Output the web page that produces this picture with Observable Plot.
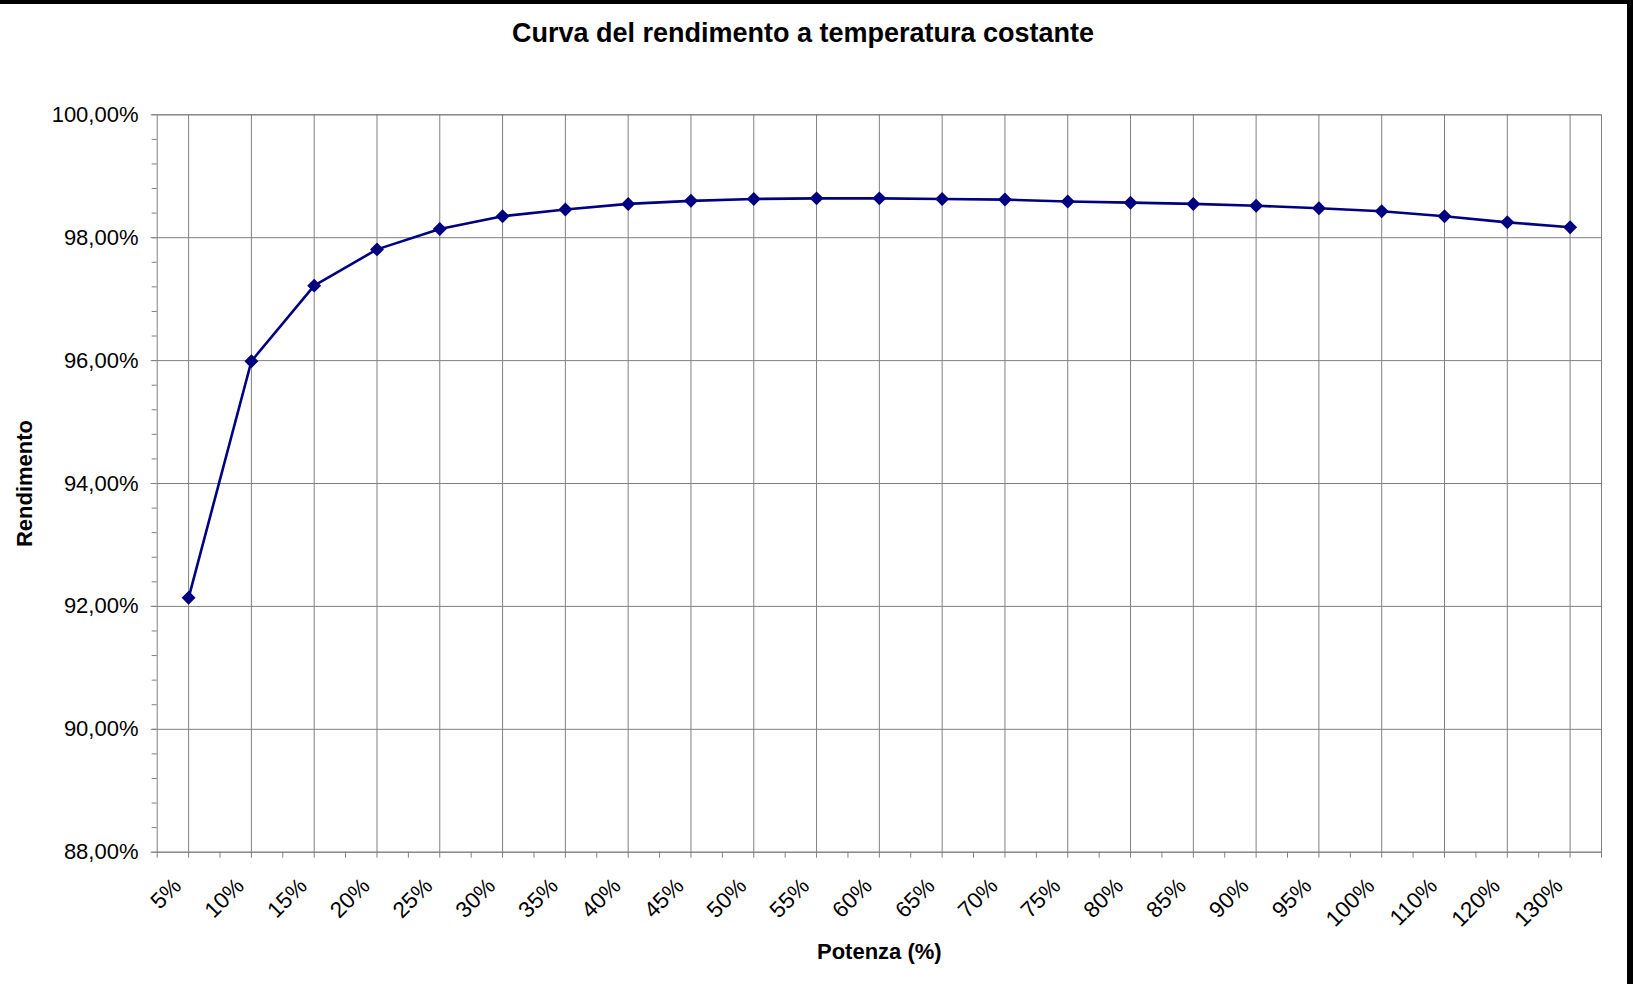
<!DOCTYPE html>
<html><head><meta charset="utf-8">
<script src="https://cdn.jsdelivr.net/npm/d3@7"></script>
<script src="https://cdn.jsdelivr.net/npm/@observablehq/plot@0.6"></script>
<style>
html,body{margin:0;padding:0;background:#fff;}
#wrap{position:relative;width:1633px;height:984px;overflow:hidden;font-family:"Liberation Sans",Arial,sans-serif;}
#title{position:absolute;left:0;width:1606px;top:17px;text-align:center;font-weight:bold;font-size:27px;line-height:32px;color:#000;}
#bt{position:absolute;left:0;top:0;width:1633px;height:4px;background:#000;}
#br{position:absolute;right:0;top:0;width:6px;height:984px;background:#000;}
#chart{position:absolute;left:0;top:0;}
</style></head>
<body><div id="wrap"><div id="chart"></div><div id="title">Curva del rendimento a temperatura costante</div><div id="bt"></div><div id="br"></div></div>
<script>
const categories = ["5%","10%","15%","20%","25%","30%","35%","40%","45%","50%","55%","60%","65%","70%","75%","80%","85%","90%","95%","100%","110%","120%","130%"];
const rendimento = [92.14, 95.99, 97.22, 97.81, 98.14, 98.35, 98.46, 98.55, 98.60, 98.63, 98.64, 98.64, 98.63, 98.62, 98.59, 98.57, 98.55, 98.52, 98.48, 98.43, 98.35, 98.25, 98.17];
const yTicks = [88, 90, 92, 94, 96, 98, 100];
const yMinor = d3.range(88, 100.001, 0.4);
const xTitle = "Potenza (%)";
const yTitle = "Rendimento";

const data = categories.map((c, i) => ({potenza: c, rendimento: rendimento[i]}));
const W = 1627, H = 984;
const mL = 156.7, mR = 26, mT = 114.3, mB = 132.3;
const plotH = H - mT - mB;
const bw = (W - mL - mR) / categories.length;
const grid = "#808080";

const chart = Plot.plot({
  width: W, height: H,
  marginLeft: mL, marginRight: mR, marginTop: mT, marginBottom: mB,
  style: {fontFamily: "Liberation Sans, Arial, sans-serif", fontSize: "22px", color: "#000", background: "transparent", overflow: "visible"},
  x: {type: "band", domain: categories, padding: 0, round: false},
  y: {domain: [88, 100]},
  marks: [
    Plot.ruleY(yTicks, {stroke: grid, strokeWidth: 1}),
    Plot.ruleX(categories, {stroke: grid, insetBottom: -6}),
    Plot.ruleX(categories, {stroke: grid, dx: -bw / 2, insetTop: plotH, insetBottom: -6}),
    Plot.ruleX(categories.slice(-1), {stroke: grid, dx: bw / 2, insetTop: plotH, insetBottom: -6}),
    Plot.frame({stroke: grid}),
    Plot.axisY({ticks: yMinor, tickSize: 5, tickFormat: () => "", stroke: grid, label: null}),
    Plot.axisY({ticks: yTicks, tickSize: 6, tickPadding: 12.7, stroke: grid, fill: "#000", fontSize: 22, label: null,
      tickFormat: d => d.toFixed(2).replace(".", ",") + "%"}),
    Plot.axisX({tickSize: 0, tickPadding: 30, tickRotate: -45, fontSize: 22.5, fill: "#000", label: null, dx: -11}),
    Plot.text([xTitle], {frameAnchor: "bottom", dy: 107, fontWeight: "bold", fontSize: 22, fill: "#000"}),
    Plot.text([yTitle], {frameAnchor: "left", textAnchor: "middle", dx: -132.7, rotate: -90, fontWeight: "bold", fontSize: 22, fill: "#000"}),
    Plot.line(data, {x: "potenza", y: "rendimento", stroke: "#000080", strokeWidth: 2.6}),
    Plot.dot(data, {x: "potenza", y: "rendimento", symbol: "diamond2", r: 6.3, fill: "#000080", stroke: "none"})
  ]
});
document.getElementById("chart").appendChild(chart);
</script>
</body></html>
